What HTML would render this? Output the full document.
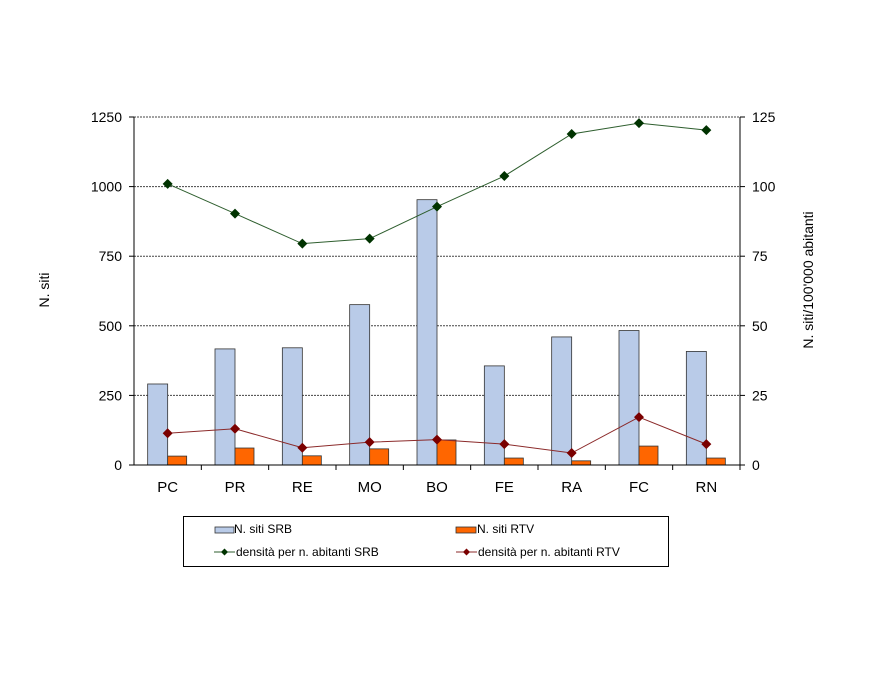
<!DOCTYPE html>
<html><head><meta charset="utf-8"><style>
body{margin:0;background:#fff;}
svg text{font-family:"Liberation Sans",Arial,sans-serif;}
</style></head><body>
<svg id="chart" width="882" height="682" xmlns="http://www.w3.org/2000/svg">
<g id="grid"></g><g id="bars"></g><g id="lines"></g><g id="axes"></g>
<text transform="translate(49,290) rotate(-90)" text-anchor="middle" font-size="14">N. siti</text>
<text transform="translate(813,280) rotate(-90)" text-anchor="middle" font-size="14">N. siti/100'000 abitanti</text>
<g>
<rect x="183.5" y="516.5" width="485" height="50" fill="#fff" stroke="#000"/>
<rect x="215" y="527" width="19" height="6" fill="#b9cbe8" stroke="#333" stroke-width="0.8"/>
<text x="234" y="533" font-size="12">N. siti SRB</text>
<rect x="456" y="527" width="20" height="6" fill="#ff6600" stroke="#333" stroke-width="0.8"/>
<text x="477" y="533" font-size="12">N. siti RTV</text>
<line x1="214" y1="552" x2="235" y2="552" stroke="#2e5e2e"/>
<path d="M224.5,548.5 L228,552 L224.5,555.5 L221,552Z" fill="#003300"/>
<text x="236" y="556" font-size="12">densità per n. abitanti SRB</text>
<line x1="456" y1="552" x2="477" y2="552" stroke="#8b2a2a"/>
<path d="M466.5,548.5 L470,552 L466.5,555.5 L463,552Z" fill="#7a0000"/>
<text x="478" y="556" font-size="12">densità per n. abitanti RTV</text>
</g>
</svg>
<script>
const categories=["PC","PR","RE","MO","BO","FE","RA","FC","RN"];
const srbSites=[291,417,421,576,953,356,460,483,408];
const rtvSites=[32,61,33,58,90,25,15,68,25];
const srbDensity=[101,90.3,79.5,81.3,92.8,103.8,118.9,122.8,120.3];
const rtvDensity=[11.4,13,6.2,8.2,9.1,7.5,4.3,17.2,7.5];
const leftTicks=[0,250,500,750,1000,1250];
const rightTicks=[0,25,50,75,100,125];
const NS="http://www.w3.org/2000/svg";
const L=134,R=740,T=117,B=465;
const yL=v=>B-(v/1250)*(B-T);
const yR=v=>B-(v/125)*(B-T);
const cw=(R-L)/categories.length;
const xc=i=>L+cw*(i+0.5);
function mk(tag,attrs,parent){const e=document.createElementNS(NS,tag);for(const k in attrs)e.setAttribute(k,attrs[k]);document.getElementById(parent).appendChild(e);return e;}
leftTicks.forEach((t,i)=>{
 if(t>0){const g=mk('line',{x1:L,x2:R,y1:yL(t),y2:yL(t),stroke:'#444','stroke-dasharray':'2,1','stroke-width':1},'grid');
 
 }
 const a=mk('text',{x:L-12,y:yL(t)+5,'text-anchor':'end','font-size':14},'axes');a.textContent=t;
 
 
 mk('line',{x1:L-5,x2:L,y1:yL(t),y2:yL(t),stroke:'#000'},'axes');
});
rightTicks.forEach(t=>{
 const a=mk('text',{x:R+12,y:yR(t)+5,'text-anchor':'start','font-size':14},'axes');a.textContent=t;
 
 
 mk('line',{x1:R,x2:R+5,y1:yR(t),y2:yR(t),stroke:'#000'},'axes');
});
mk('line',{x1:L,x2:L,y1:T,y2:B,stroke:'#000'},'axes');
mk('line',{x1:R,x2:R,y1:T,y2:B,stroke:'#000'},'axes');
mk('line',{x1:L,x2:R,y1:B,y2:B,stroke:'#000'},'axes');
categories.forEach((c,i)=>{
 mk('line',{x1:L+cw*(i+1),x2:L+cw*(i+1),y1:B,y2:B+5,stroke:'#000'},'axes');
 const t=mk('text',{x:xc(i),y:B+27,'text-anchor':'middle','font-size':15},'axes');t.textContent=c;
 
 
 const b1=mk('rect',{x:xc(i)-20,y:yL(srbSites[i]),width:20,height:B-yL(srbSites[i]),fill:'#b9cbe8',stroke:'#333','stroke-width':0.8},'bars');
 
 
 const b2=mk('rect',{x:xc(i),y:yL(rtvSites[i]),width:19,height:B-yL(rtvSites[i]),fill:'#ff6600',stroke:'#333','stroke-width':0.8},'bars');
 
 
});
function line(data,col,mcol,name){
 const p=mk('polyline',{points:data.map((v,i)=>xc(i)+','+yR(v)).join(' '),fill:'none',stroke:col,'stroke-width':1},'lines');
 
 
 data.forEach((v,i)=>{const x=xc(i),y=yR(v);
  const m=mk('path',{d:`M${x},${y-5} L${x+5},${y} L${x},${y+5} L${x-5},${y}Z`,fill:mcol},'lines');
  
  });
}
line(srbDensity,'#2e5e2e','#003300','srb-density');
line(rtvDensity,'#8b2a2a','#7a0000','rtv-density');
</script>
</body></html>
